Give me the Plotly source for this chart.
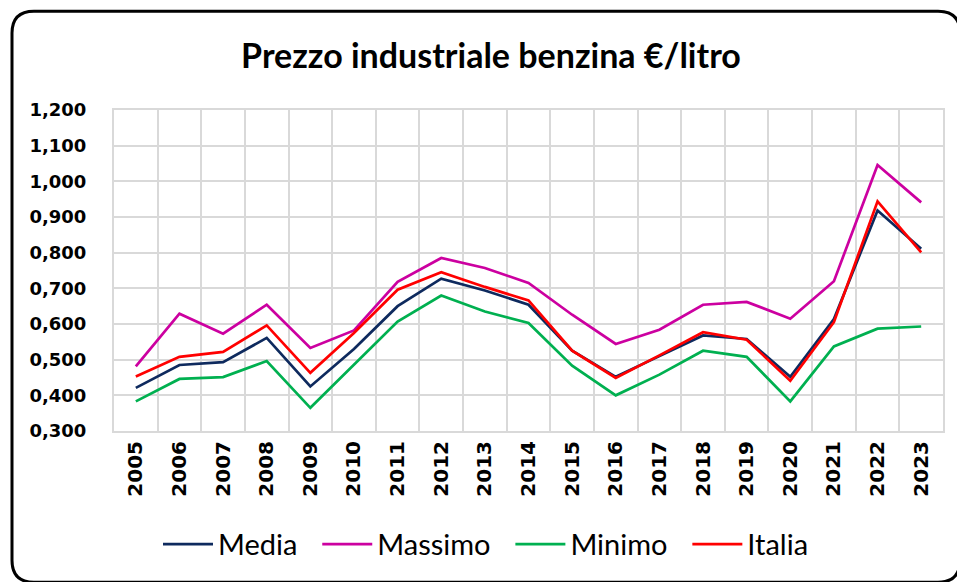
import plotly.graph_objects as go

years = [str(y) for y in range(2005, 2024)]
media   = [0.421, 0.485, 0.493, 0.561, 0.425, 0.530, 0.650, 0.727, 0.694, 0.654, 0.525, 0.452, 0.510, 0.568, 0.558, 0.452, 0.614, 0.918, 0.811]
massimo = [0.481, 0.629, 0.573, 0.654, 0.533, 0.582, 0.718, 0.785, 0.757, 0.715, 0.626, 0.544, 0.584, 0.654, 0.662, 0.615, 0.720, 1.046, 0.941]
minimo  = [0.383, 0.446, 0.451, 0.496, 0.365, 0.486, 0.607, 0.680, 0.635, 0.603, 0.483, 0.400, 0.458, 0.525, 0.508, 0.383, 0.537, 0.587, 0.593]
italia  = [0.453, 0.508, 0.522, 0.596, 0.463, 0.575, 0.696, 0.745, 0.704, 0.666, 0.525, 0.449, 0.512, 0.577, 0.556, 0.441, 0.605, 0.944, 0.801]

series = [("Media", media, "#0E2A5E"),
          ("Massimo", massimo, "#CC00A0"),
          ("Minimo", minimo, "#00B050"),
          ("Italia", italia, "#FF0000")]

# page body has an 8px margin; work in screen pixels and shift
O = 8
W, H = 965 - O, 582 - O
# plot area in screen pixels
SX0, SX1, SY0, SY1 = 114, 943, 110, 431.5
L, R, T, B = SX0 - O, W - (SX1 - O), SY0 - O, H - (SY1 - O)
pw, ph = W - L - R, H - T - B

fig = go.Figure()
for name, vals, col in series:
    fig.add_trace(go.Scatter(x=years, y=vals, name=name + "\u00a0\u00a0", mode="lines",
                             line=dict(color=col, width=2.7)))

def px(x):  # screen x -> paper
    return (x - SX0) / pw

def py(y):  # screen y -> paper
    return (SY1 - y) / ph

# rounded outer frame (decoration)
x0, x1, y0, y1, r = 12, 960, 11, 583, 22
path = (f"M{px(x0)},{py(y0 + r)} "
        f"Q{px(x0)},{py(y0)} {px(x0 + r)},{py(y0)} "
        f"L{px(x1 - r)},{py(y0)} "
        f"Q{px(x1)},{py(y0)} {px(x1)},{py(y0 + r)} "
        f"L{px(x1)},{py(y1 - r)} "
        f"Q{px(x1)},{py(y1)} {px(x1 - r)},{py(y1)} "
        f"L{px(x0 + r)},{py(y1)} "
        f"Q{px(x0)},{py(y1)} {px(x0)},{py(y1 - r)} Z")
fig.add_shape(type="path", path=path, xref="paper", yref="paper",
              line=dict(color="black", width=3), layer="above")

fig.update_layout(
    width=W, height=H,
    margin=dict(l=L, r=R, t=T, b=B, pad=0),
    paper_bgcolor="white", plot_bgcolor="white",
    separators=",.",
    title=dict(text="<b>Prezzo industriale benzina €/litro</b>",
               font=dict(family="Lato", size=34, color="black"),
               x=(491 - O) / W, xref="container", xanchor="center",
               y=1 - (56 - O) / H, yref="container", yanchor="middle"),
    legend=dict(orientation="h", x=px(158), xanchor="left",
                y=py(545), yanchor="middle",
                font=dict(family="Lato", size=29, color="black"),
                itemwidth=50, entrywidth=0,
                bgcolor="rgba(0,0,0,0)"),
    showlegend=True,
)
fig.update_xaxes(type="category", tickson="boundaries",
                 showgrid=True, gridcolor="#D9D9D9", gridwidth=2,
                 showline=True, linecolor="#D9D9D9", linewidth=2, mirror=True,
                 tickangle=-90, ticks="",
                 tickfont=dict(family="DejaVu Sans", size=20, color="black", weight="bold"),
                 range=[-0.5, 18.5])
fig.update_yaxes(range=[0.3, 1.2], dtick=0.1, tickformat=".3f",
                 showgrid=True, gridcolor="#D9D9D9", gridwidth=2,
                 showline=True, linecolor="#D9D9D9", linewidth=2, mirror=True,
                 zeroline=False, ticks="", ticklabelstandoff=22,
                 tickfont=dict(family="DejaVu Sans", size=18, color="black", weight="bold"))

fig.write_html("out.html")
